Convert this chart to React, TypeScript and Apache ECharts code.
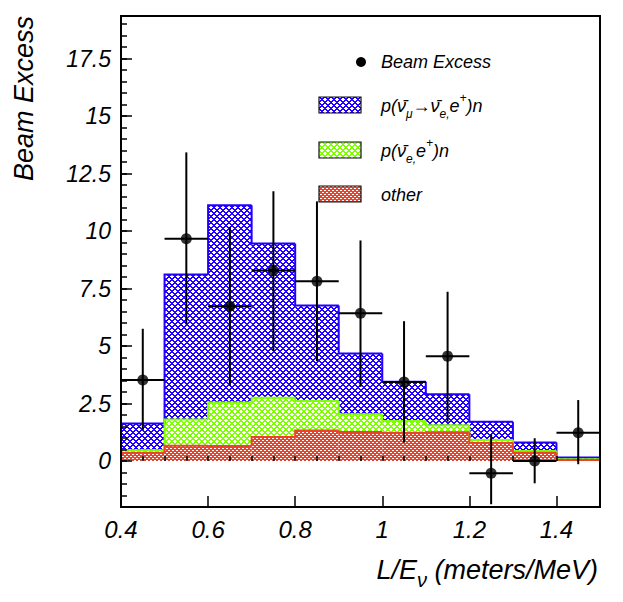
import React, { useEffect, useRef } from 'react';
import * as echarts from 'echarts';

// ---- data ----
const binEdges = [0.4, 0.5, 0.6, 0.7, 0.8, 0.9, 1.0, 1.1, 1.2, 1.3, 1.4, 1.5];
// cumulative tops of the stacked histograms
const totalTop = [1.63, 8.11, 11.12, 9.46, 6.76, 4.68, 3.45, 2.9, 1.71, 0.8, 0.15]; // p(nubar_mu -> nubar_e, e+)n (blue)
const nueTop = [0.47, 1.81, 2.54, 2.75, 2.61, 2.03, 1.74, 1.56, 0.91, 0.43, 0.08]; // p(nubar_e, e+)n (green)
const otherTop = [0.35, 0.66, 0.65, 1.04, 1.33, 1.26, 1.22, 1.25, 0.78, 0.36, 0.04]; // other (red)

const pointX = [0.45, 0.55, 0.65, 0.75, 0.85, 0.95, 1.05, 1.15, 1.25, 1.35, 1.45];
const pointY = [3.52, 9.66, 6.73, 8.28, 7.82, 6.42, 3.43, 4.56, -0.53, 0.0, 1.23];
const errHigh = [5.75, 13.42, 10.18, 11.73, 11.29, 9.59, 6.08, 7.36, 1.16, 0.99, 2.65];
const errLow = [1.35, 5.94, 3.26, 4.78, 4.34, 3.23, 0.8, 1.71, -1.88, -0.97, -0.14];

const xTickLabels = [0.4, 0.6, 0.8, 1, 1.2, 1.4];
const yTickLabels = [0, 2.5, 5, 7.5, 10, 12.5, 15, 17.5];

const X_MIN = 0.4;
const X_MAX = 1.5;
const Y_MIN = -2;
const Y_MAX = 19.35;

const BLUE = '#2200ff';
const GREEN = '#80ff00';
const RED = '#e8452c';
const FONT = '"Liberation Sans", Arial, Helvetica, sans-serif';

function hatch(color: string, p: number, thick: number) {
  const c = document.createElement('canvas');
  c.width = p;
  c.height = p;
  const ctx = c.getContext('2d')!;
  ctx.fillStyle = '#ffffff';
  ctx.fillRect(0, 0, p, p);
  ctx.fillStyle = color;
  for (let i = 0; i < p; i++) {
    for (let j = 0; j < p; j++) {
      const a = (((i - j) % p) + p) % p;
      const b = (i + j) % p;
      if (a < thick || b < thick) ctx.fillRect(i, j, 1, 1);
    }
  }
  return { image: c.toDataURL(), repeat: 'repeat', imageWidth: p, imageHeight: p } as any;
}

function minorTicks(min: number, max: number, step: number) {
  const out: number[] = [];
  const n = Math.floor((max - min) / step + 1e-9);
  for (let k = 0; k <= n; k++) out.push(Math.round((min + k * step) * 1000) / 1000);
  return out;
}

function histSeries(name: string, lower: number[] | null, upper: number[], color: string, pattern: any) {
  const data = upper.map((u, i) => [
    binEdges[i],
    binEdges[i + 1],
    lower ? lower[i] : 0,
    u,
    i > 0 ? upper[i - 1] : 0,
  ]);
  return {
    type: 'custom',
    name,
    clip: true,
    encode: { x: [0, 1], y: [2, 3] },
    data,
    renderItem: (params: any, api: any) => {
      const x0 = api.value(0);
      const x1 = api.value(1);
      const lo = api.value(2);
      const hi = api.value(3);
      const prev = api.value(4);
      const pTop = api.coord([x0, hi]);
      const pBot = api.coord([x1, lo]);
      const pPrev = api.coord([x0, prev]);
      return {
        type: 'group',
        children: [
          {
            type: 'rect',
            shape: { x: pTop[0], y: pTop[1], width: pBot[0] - pTop[0], height: pBot[1] - pTop[1] },
            style: { fill: pattern, stroke: null },
          },
          {
            type: 'polyline',
            z2: 10,
            shape: { points: [[pPrev[0], pPrev[1]], [pTop[0], pTop[1]], [pBot[0], pTop[1]]] },
            style: { stroke: color, lineWidth: 2, fill: null },
          },
        ],
      };
    },
  };
}

export default function App() {
  const ref = useRef<HTMLDivElement>(null);
  useEffect(() => {
    document.body.style.margin = '0';
    const chart = echarts.init(ref.current!, null, { renderer: 'svg' });
    const blueP = hatch(BLUE, 6, 2);
    const greenP = hatch(GREEN, 6, 2);
    const redP = hatch(RED, 4, 2);
    const halfW = (binEdges[1] - binEdges[0]) / 2;

    const pointData = pointX.map((x, i) => [x, pointY[i], errLow[i], errHigh[i]]);

    const axisLabelStyle = { color: '#000', fontFamily: FONT, fontStyle: 'italic' as const };
    const richSmall = {
      a: { fontFamily: FONT, fontStyle: 'italic', fontSize: 18, lineHeight: 28, verticalAlign: 'middle', fill: '#000' },
      s: { fontFamily: FONT, fontStyle: 'italic', fontSize: 12, lineHeight: 12, verticalAlign: 'bottom', fill: '#000' },
      u: { fontFamily: FONT, fontStyle: 'italic', fontSize: 12, lineHeight: 12, verticalAlign: 'top', fill: '#000' },
      r: { fontFamily: FONT, fontSize: 18, lineHeight: 28, verticalAlign: 'middle', fill: '#000' },
    };

    const option: any = {
      animation: false,
      backgroundColor: '#fff',
      grid: {
        left: 121,
        top: 16,
        right: 23,
        bottom: 95,
        show: true,
        borderColor: '#000',
        borderWidth: 2,
        backgroundColor: 'transparent',
      },
      xAxis: [
        {
          type: 'value',
          min: X_MIN,
          max: X_MAX,
          z: 5,
          position: 'bottom',
          axisLine: { show: true, onZero: false, lineStyle: { color: '#000', width: 2 } },
          axisTick: { show: true, inside: true, length: 11, customValues: xTickLabels, lineStyle: { color: '#000', width: 1.5 } },
          axisLabel: { show: true, customValues: xTickLabels, margin: 10, fontSize: 24, ...axisLabelStyle },
          splitLine: { show: false },
        },
        {
          type: 'value',
          min: X_MIN,
          max: X_MAX,
          z: 5,
          position: 'bottom',
          axisLine: { show: false },
          axisTick: { show: true, inside: true, length: 5, customValues: minorTicks(X_MIN, X_MAX, 0.05), lineStyle: { color: '#000', width: 1.5 } },
          axisLabel: { show: false },
          splitLine: { show: false },
        },
      ],
      yAxis: [
        {
          type: 'value',
          min: Y_MIN,
          max: Y_MAX,
          z: 5,
          position: 'left',
          axisLine: { show: true, onZero: false, lineStyle: { color: '#000', width: 2 } },
          axisTick: { show: true, inside: true, length: 11, customValues: yTickLabels, lineStyle: { color: '#000', width: 1.5 } },
          axisLabel: { show: true, customValues: yTickLabels, margin: 10, fontSize: 23, ...axisLabelStyle },
          splitLine: { show: false },
        },
        {
          type: 'value',
          min: Y_MIN,
          max: Y_MAX,
          z: 5,
          position: 'left',
          offset: 0,
          axisLine: { show: false },
          axisTick: { show: true, inside: true, length: 6, customValues: minorTicks(Y_MIN, 19, 0.5), lineStyle: { color: '#000', width: 1.5 } },
          axisLabel: { show: false },
          splitLine: { show: false },
        },
      ],
      series: [
        histSeries('p(ν̄μ→ν̄e,e+)n', nueTop, totalTop, BLUE, blueP),
        histSeries('p(ν̄e,e+)n', otherTop, nueTop, GREEN, greenP),
        histSeries('other', null, otherTop, RED, redP),
        {
          type: 'custom',
          name: 'Beam Excess errors',
          encode: { x: 0, y: [1, 2, 3] },
          data: pointData,
          z: 6,
          renderItem: (params: any, api: any) => {
            const x = api.value(0);
            const y = api.value(1);
            const lo = api.value(2);
            const hi = api.value(3);
            const a = api.coord([x - halfW, y]);
            const b = api.coord([x + halfW, y]);
            const t = api.coord([x, hi]);
            const d = api.coord([x, lo]);
            const st = { stroke: '#000', lineWidth: 2 };
            return {
              type: 'group',
              children: [
                { type: 'line', shape: { x1: a[0], y1: a[1], x2: b[0], y2: b[1] }, style: st },
                { type: 'line', shape: { x1: t[0], y1: t[1], x2: d[0], y2: d[1] }, style: st },
              ],
            };
          },
        },
        {
          type: 'scatter',
          name: 'Beam Excess',
          z: 7,
          symbol: 'circle',
          symbolSize: 11,
          itemStyle: { color: '#000' },
          data: pointX.map((x, i) => [x, pointY[i]]),
        },
      ],
      graphic: [
        // legend
        { type: 'circle', shape: { cx: 361, cy: 62, r: 5 }, style: { fill: '#000' }, z: 20 },
        {
          type: 'text', x: 381, y: 62, z: 20,
          style: { text: 'Beam Excess', fontFamily: FONT, fontStyle: 'italic', fontSize: 18, fill: '#000', verticalAlign: 'middle', align: 'left' },
        },
        { type: 'rect', shape: { x: 319, y: 97, width: 42, height: 16 }, style: { fill: blueP, stroke: '#111', lineWidth: 1.2 }, z: 20 },
        {
          type: 'text', x: 381, y: 106, z: 20,
          style: {
            text: '{a|p(ν\u0304}{s|μ}{r|→}{a|ν\u0304}{s|e,}{a|e}{u|+}{a|)n}',
            align: 'left', verticalAlign: 'middle',
            rich: richSmall,
          },
        },
        { type: 'rect', shape: { x: 319, y: 142, width: 42, height: 16 }, style: { fill: greenP, stroke: '#111', lineWidth: 1.2 }, z: 20 },
        {
          type: 'text', x: 381, y: 151, z: 20,
          style: {
            text: '{a|p(ν\u0304}{s|e,}{a|e}{u|+}{a|)n}',
            align: 'left', verticalAlign: 'middle',
            rich: richSmall,
          },
        },
        { type: 'rect', shape: { x: 319, y: 186, width: 42, height: 16 }, style: { fill: redP, stroke: '#111', lineWidth: 1.2 }, z: 20 },
        {
          type: 'text', x: 381, y: 195, z: 20,
          style: { text: 'other', fontFamily: FONT, fontStyle: 'italic', fontSize: 18, fill: '#000', verticalAlign: 'middle', align: 'left' },
        },
        // axis titles
        {
          type: 'text', x: 23.8, y: 16, rotation: Math.PI / 2, z: 20,
          style: { text: 'Beam Excess', fontFamily: FONT, fontStyle: 'italic', fontSize: 27, fill: '#000', align: 'right', verticalAlign: 'middle' },
        },
        {
          type: 'text', x: 598, y: 570, z: 20,
          style: {
            text: '{a|L/E}{s|ν}{a| (meters/MeV)}',
            align: 'right', verticalAlign: 'middle',
            rich: {
              a: { fontFamily: FONT, fontStyle: 'italic', fontSize: 27, lineHeight: 40, verticalAlign: 'middle', fill: '#000' },
              s: { fontFamily: FONT, fontStyle: 'italic', fontSize: 20, lineHeight: 20, verticalAlign: 'bottom', fill: '#000' },
            },
          },
        },
      ],
    };
    chart.setOption(option);
    return () => chart.dispose();
  }, []);
  return <div ref={ref} style={{ width: 623, height: 602 }} />;
}
